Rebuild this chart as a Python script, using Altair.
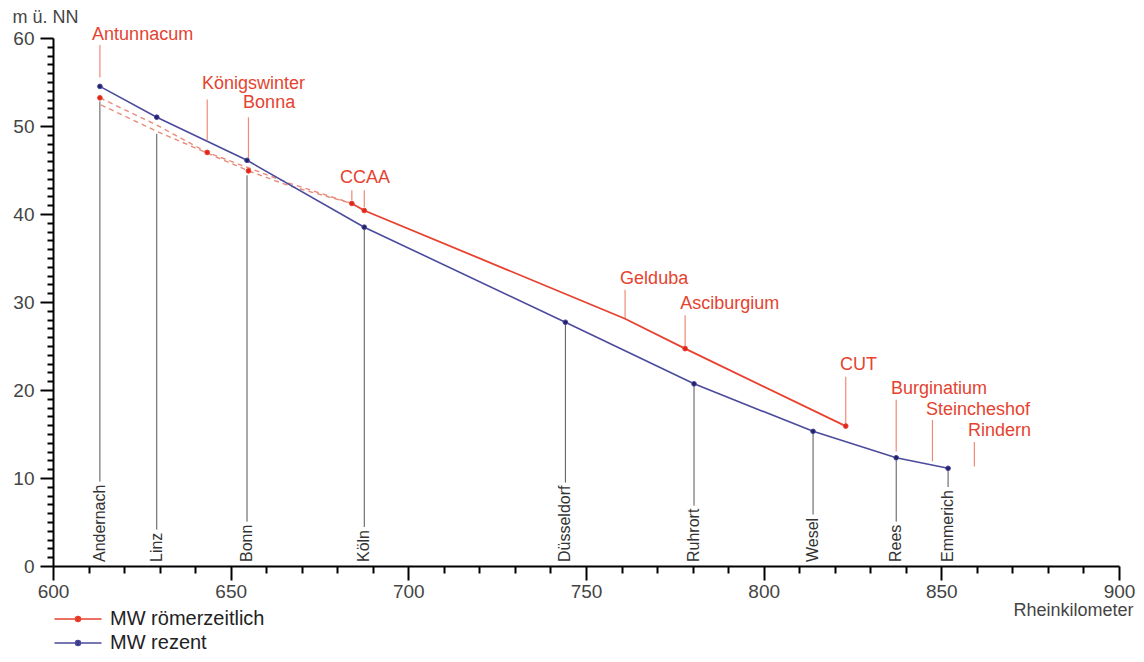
import altair as alt
import pandas as pd

# ---------------- data ----------------
# present-day towns (MW rezent)
towns = ["Andernach", "Linz", "Bonn", "Köln", "Düsseldorf", "Ruhrort", "Wesel", "Rees", "Emmerich"]
town_km = [613.2, 629.2, 654.6, 687.6, 744.2, 780.4, 813.9, 837.3, 851.9]
rezent_mw = [54.5, 51.0, 46.1, 38.5, 27.7, 20.7, 15.3, 12.3, 11.1]
town_line_top = [52.8, 49.1, 44.4, 38.5, 27.7, 20.7, 15.3, 12.3, 11.1]

# Roman sites with a marker (MW römerzeitlich)
roman_pts = ["Antunnacum", "Königswinter", "Bonna", "CCAA", "CCAA", "Asciburgium", "CUT"]
roman_km = [613.2, 643.4, 655.0, 684.1, 687.6, 777.9, 823.1]
roman_mw = [53.2, 47.0, 44.9, 41.2, 40.4, 24.7, 15.9]

# solid Roman water level line
roman_line_km = [684.1, 687.6, 761.0, 777.9, 823.1]
roman_line_mw = [41.2, 40.4, 28.1, 24.7, 15.9]

# dashed reconstructions
dash_a_km = [613.2, 629.2, 643.4, 666.5, 684.1]
dash_a_mw = [53.2, 50.1, 47.0, 43.5, 41.2]
dash_b_km = [613.5, 629.2, 655.0, 666.5, 684.1]
dash_b_mw = [52.4, 49.4, 44.9, 43.2, 41.2]

# red leader lines
leader_km = [613.2, 643.4, 655.0, 684.1, 687.6, 761.0, 777.9, 823.1, 837.3, 847.5, 859.3]
leader_top = [59.2, 53.0, 51.0, 42.7, 42.7, 31.4, 28.5, 21.5, 18.9, 16.6, 14.1]
leader_bottom = [55.5, 48.4, 45.8, 41.6, 40.8, 28.1, 24.9, 16.1, 13.0, 11.9, 11.3]

# red site labels
site_labels = ["Antunnacum", "Königswinter", "Bonna", "CCAA", "Gelduba", "Asciburgium",
               "CUT", "Burginatium", "Steincheshof", "Rindern"]
label_km = [611.0, 641.9, 653.5, 680.8, 759.6, 776.5, 821.5, 835.8, 845.7, 857.5]
label_mw = [60.3, 54.8, 52.6, 44.1, 32.6, 29.8, 22.8, 20.1, 17.7, 15.3]

series_names = ["MW römerzeitlich", "MW rezent"]

# ---------------- styling ----------------
FONT = "Liberation Sans"
RED = "#e8412f"
RED_DOT = "#e0261a"
RED_LABEL = "#e5432f"
RED_LIGHT = "#ef8a76"
DASH = "#e98b7b"
BLUE = "#4b4a9c"
BLUE_DOT = "#22226a"
GRAY_TEXT = "#444444"

W, H = 1066, 528
PX_PER_UNIT = H / 60.0
TOWN_FS = 16

# Arial-like advance widths (per 1000 em) to leave room for the rotated town names
_w = {"A": 667, "B": 667, "D": 722, "E": 667, "K": 667, "L": 556, "R": 722, "W": 944,
      "a": 556, "c": 500, "d": 556, "e": 556, "f": 278, "h": 556, "i": 222, "l": 222,
      "m": 833, "n": 556, "o": 556, "r": 333, "s": 500, "t": 278, "u": 556, "z": 500,
      "ö": 556, "ü": 556}


def text_px(s, fs):
    return sum(_w.get(c, 556) for c in s) * fs / 1000.0


town_df = pd.DataFrame({
    "name": towns, "km": town_km, "mw": rezent_mw, "top": town_line_top,
    "base": [0.0] * len(towns),
})
town_df["bottom"] = [(4 + text_px(t, TOWN_FS) + 3) / PX_PER_UNIT for t in towns]

blue_df = pd.DataFrame({"km": town_km, "mw": rezent_mw})
red_line_df = pd.DataFrame({"km": roman_line_km, "mw": roman_line_mw})
dash_df = pd.concat([
    pd.DataFrame({"km": dash_a_km, "mw": dash_a_mw, "route": "a", "i": range(len(dash_a_km))}),
    pd.DataFrame({"km": dash_b_km, "mw": dash_b_mw, "route": "b", "i": range(len(dash_b_km))}),
])
leader_df = pd.DataFrame({"km": leader_km, "top": leader_top, "bottom": leader_bottom})
label_df = pd.DataFrame({"name": site_labels, "km": label_km, "mw": label_mw})
dots_df = pd.concat([
    pd.DataFrame({"km": roman_km, "mw": roman_mw, "series": series_names[0]}),
    pd.DataFrame({"km": town_km, "mw": rezent_mw, "series": series_names[1]}),
])

xscale = alt.Scale(domain=[600, 900], nice=False, zero=False)
yscale = alt.Scale(domain=[0, 60], nice=False, zero=False)

x_axis = alt.Axis(
    values=list(range(600, 901, 10)), tickCount=200, format="d",
    labelExpr="datum.value % 50 === 0 ? datum.label : ''",
    tickSize={"condition": {"test": "datum.value % 50 === 0", "value": 14}, "value": 7},
    tickWidth=2, tickColor="black", domainColor="black", domainWidth=2,
    labelFont=FONT, labelFontSize=19, labelColor=GRAY_TEXT, labelPadding=2,
    labelOverlap=False, labelFlush=False, grid=False,
    title="Rheinkilometer", titleFont=FONT, titleFontSize=18, titleFontWeight="normal",
    titleColor=GRAY_TEXT, titleX=1080, titleY=44, titleAlign="right", titleBaseline="middle",
)
y_axis = alt.Axis(
    values=list(range(0, 61)), tickCount=200, format="d",
    labelExpr="datum.value % 10 === 0 ? datum.label : ''",
    tickSize={"condition": {"test": "datum.value % 10 === 0", "value": 13}, "value": 6},
    tickWidth=2, tickColor="black", domainColor="black", domainWidth=2,
    labelFont=FONT, labelFontSize=19, labelColor=GRAY_TEXT, labelPadding=6,
    labelOverlap=False, labelFlush=False, grid=False,
    title="m ü. NN", titleFont=FONT, titleFontSize=18, titleFontWeight="normal",
    titleColor=GRAY_TEXT, titleAngle=0, titleX=-41, titleY=-21, titleAlign="left",
    titleBaseline="middle",
)

town_rules = alt.Chart(town_df).mark_rule(color="#555555", strokeWidth=1).encode(
    x=alt.X("km:Q", scale=xscale, axis=x_axis),
    y=alt.Y("bottom:Q", scale=yscale, axis=y_axis),
    y2="top:Q",
)
town_text = alt.Chart(town_df).mark_text(
    angle=270, align="left", baseline="middle", dx=4, font=FONT, fontSize=TOWN_FS, color="#333333"
).encode(x="km:Q", y="base:Q", text="name:N")

leaders = alt.Chart(leader_df).mark_rule(color=RED_LIGHT, strokeWidth=1.2).encode(
    x="km:Q", y="bottom:Q", y2="top:Q"
)
dashes = alt.Chart(dash_df).mark_line(strokeDash=[5, 4], color=DASH, strokeWidth=1.4).encode(
    x="km:Q", y="mw:Q", detail="route:N", order="i:Q"
)
red_line = alt.Chart(red_line_df).mark_line(color=RED, strokeWidth=1.8).encode(x="km:Q", y="mw:Q")
blue_line = alt.Chart(blue_df).mark_line(color=BLUE, strokeWidth=1.6).encode(x="km:Q", y="mw:Q")

LEG_PATH = "M-4.7,0H4.7M-0.5,0A0.5,0.5,0,1,1,0.5,0A0.5,0.5,0,1,1,-0.5,0Z"
legend = alt.Legend(
    title=None, orient="none", legendX=15, legendY=571, padding=0,
    symbolType=LEG_PATH, symbolSize=100, symbolStrokeWidth=1.5, symbolOpacity=1,
    labelFont=FONT, labelFontSize=20, labelColor="#222222", labelOffset=22, rowPadding=4,
    labelLimit=400,
)
dots = alt.Chart(dots_df).mark_circle(size=22, opacity=1, strokeWidth=1).encode(
    x="km:Q", y="mw:Q",
    fill=alt.Fill("series:N", scale=alt.Scale(domain=series_names, range=[RED_DOT, BLUE_DOT]), legend=legend),
    stroke=alt.Stroke("series:N", scale=alt.Scale(domain=series_names, range=[RED, BLUE]), legend=legend),
)
labels = alt.Chart(label_df).mark_text(
    align="left", baseline="middle", font=FONT, fontSize=18, color=RED_LABEL
).encode(x="km:Q", y="mw:Q", text="name:N")

chart = alt.layer(
    town_rules, town_text, leaders, dashes, blue_line, red_line, dots, labels
).properties(
    width=W, height=H,
    autosize=alt.AutoSizeParams(type="none"),
    padding={"left": 45, "top": 30, "right": 17, "bottom": 88},
    background="white",
).configure_view(strokeWidth=0)

chart.save("out.html", embed_options={"renderer": "svg", "actions": False})
